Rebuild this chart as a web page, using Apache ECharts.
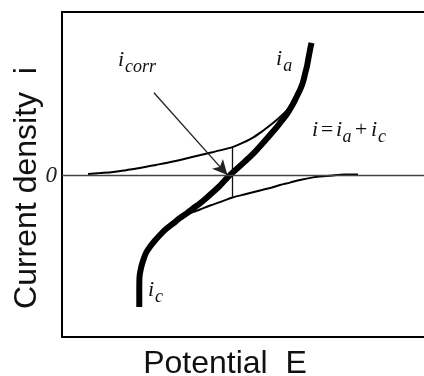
<!DOCTYPE html>
<html>
<head>
<meta charset="utf-8">
<script src="https://cdn.jsdelivr.net/npm/echarts@6/dist/echarts.min.js"></script>
<style>
  html, body { margin: 0; padding: 0; background: #fff; }
  #chart { width: 424px; height: 376px; }
</style>
</head>
<body>
<div id="chart"></div>
<script>
// Polarization curves in arbitrary units: potential E on x, current density i on y.

// Total measured current i = ia + ic
const totalE = [2.135, 2.135, 2.141, 2.182, 2.246, 2.320, 2.431, 2.569, 2.707, 2.873,
                3.075, 3.260, 3.445, 3.619, 3.812, 4.006, 4.180, 4.365, 4.550, 4.696,
                4.917, 5.110, 5.276, 5.552, 5.829, 6.022, 6.215, 6.381, 6.492, 6.575,
                6.657, 6.713, 6.768, 6.809, 6.851, 6.892];
const totalI = [-8.02, -6.98, -6.19, -5.64, -5.15, -4.72, -4.34, -3.96, -3.62, -3.26,
                -2.91, -2.58, -2.30, -2.00, -1.69, -1.33, -0.98, -0.60, -0.16, 0.16,
                0.59, 0.99, 1.33, 2.00, 2.70, 3.22, 3.77, 4.38, 4.87, 5.24,
                5.72, 6.21, 6.70, 7.19, 7.68, 8.11];

// Anodic partial current ia
const anodicE = [0.718, 1.050, 1.409, 1.768, 2.155, 2.597, 3.066, 3.536, 4.006, 4.365,
                 4.710, 5.000, 5.276, 5.552, 5.829, 6.022, 6.215, 6.409, 6.575, 6.657];
const anodicI = [0.10, 0.16, 0.23, 0.34, 0.47, 0.66, 0.87, 1.11, 1.36, 1.55,
                 1.75, 2.02, 2.33, 2.75, 3.22, 3.59, 4.01, 4.59, 5.17, 5.54];

// Cathodic partial current ic
const cathodicE = [8.177, 7.818, 7.486, 7.127, 6.934, 6.575, 6.298, 6.022, 5.801, 5.470,
                   5.083, 4.710, 4.365, 4.088, 3.812, 3.619, 3.445, 3.260, 3.075];
const cathodicI = [0.08, 0.07, 0.02, -0.05, -0.10, -0.26, -0.42, -0.57, -0.72, -0.90,
                   -1.12, -1.33, -1.61, -1.82, -2.06, -2.22, -2.40, -2.67, -2.98];

// Corrosion point: the vertical segment spans ia down to ic at E_corr
const corrE = 4.71;
const corrSpan = [1.75, -1.36];

// Pointer from the i_corr label to the zero crossing
const arrowFrom = [2.54, 5.07];
const arrowTo = [4.57, 0.04];

// The only tick label on the current axis
const currentTicks = [0];

const zip = (xs, ys) => xs.map((x, k) => [x, ys[k]]);

const chart = echarts.init(document.getElementById('chart'), null, { renderer: 'canvas' });

const frameLine = { show: true, onZero: false, lineStyle: { color: '#000', width: 2 } };
const hidden = { show: false };

chart.setOption({
  animation: false,
  backgroundColor: '#fff',
  grid: { left: 62, right: 0, top: 12, bottom: 39, containLabel: false, outerBoundsMode: 'none' },
  xAxis: [
    { type: 'value', min: 0, max: 10, position: 'bottom',
      axisLine: frameLine, axisTick: hidden, axisLabel: hidden, splitLine: hidden },
    { type: 'value', min: 0, max: 10, position: 'top',
      axisLine: frameLine, axisTick: hidden, axisLabel: hidden, splitLine: hidden }
  ],
  yAxis: {
    type: 'value', min: -9.85, max: 10,
    axisLine: frameLine, axisTick: hidden, splitLine: hidden,
    axisLabel: {
      show: true, customValues: currentTicks, margin: 5,
      fontFamily: 'Liberation Serif', fontStyle: 'italic', fontSize: 23, color: '#222'
    }
  },
  series: [
    {
      name: 'zero', type: 'line', data: [], z: 1,
      markLine: {
        silent: true, symbol: ['none', 'none'], label: { show: false },
        lineStyle: { color: '#444', width: 1.3, type: 'solid' },
        data: [{ yAxis: 0 }]
      }
    },
    {
      name: 'ia', type: 'line', data: zip(anodicE, anodicI), z: 2,
      showSymbol: false, smooth: 0.3,
      lineStyle: { color: '#000', width: 2 }
    },
    {
      name: 'ic', type: 'line', data: zip(cathodicE, cathodicI), z: 2,
      showSymbol: false, smooth: 0.3,
      lineStyle: { color: '#000', width: 2 }
    },
    {
      name: 'corr', type: 'line', data: corrSpan.map(v => [corrE, v]), z: 2,
      showSymbol: false,
      lineStyle: { color: '#111', width: 1.3 }
    },
    {
      name: 'i', type: 'line', data: zip(totalE, totalI), z: 3,
      showSymbol: false, smooth: 0.3,
      lineStyle: { color: '#000', width: 6, cap: 'butt' },
      markLine: {
        silent: true, symbol: ['none', 'arrow'], symbolSize: [11, 15],
        label: { show: false },
        lineStyle: { color: '#222', width: 1.3, type: 'solid' },
        data: [[{ coord: arrowFrom }, { coord: arrowTo }]]
      }
    }
  ]
});

// Italic math labels with subscripts, laid out piece by piece
const ctx = document.createElement('canvas').getContext('2d');
const MAIN = 22, SUB = 18, DROP = 6;
function mathLabel(anchor, parts) {
  const p = chart.convertToPixel({ gridIndex: 0 }, anchor);
  let x = p[0];
  const out = [];
  parts.forEach(part => {
    const size = part.sub ? SUB : MAIN;
    const font = 'italic ' + size + 'px "Liberation Serif"';
    ctx.font = font;
    x += part.pre || 0;
    const base = p[1] + (part.sub ? DROP : 0);
    out.push({
      type: 'text', z: 10, x: x, y: base - 0.33 * size,
      style: { text: part.t, font: font, fill: '#111', align: 'left', verticalAlign: 'middle' }
    });
    x += ctx.measureText(part.t).width + (part.post || 0);
  });
  return out;
}

const labels = []
  .concat(mathLabel([1.547, 6.64], [{ t: 'i' }, { t: 'corr', sub: true, pre: 1 }]))
  .concat(mathLabel([5.912, 6.70], [{ t: 'i' }, { t: 'a', sub: true, pre: 1 }]))
  .concat(mathLabel([6.906, 2.36], [
    { t: 'i' }, { t: '=', pre: 1.5, post: 1.5 }, { t: 'i' }, { t: 'a', sub: true, pre: 0.5 },
    { t: '+', pre: 2, post: 2.5 }, { t: 'i' }, { t: 'c', sub: true, pre: 1 }
  ]))
  .concat(mathLabel([2.376, -7.41], [{ t: 'i' }, { t: 'c', sub: true, pre: 1 }]));

chart.setOption({
  graphic: labels.concat([
    {
      type: 'text', z: 10, x: 225, y: 364,
      style: { text: 'Potential  E', font: '32px "Liberation Sans"', fill: '#111',
               align: 'center', verticalAlign: 'middle' }
    },
    {
      type: 'text', z: 10, x: 27, y: 188, rotation: Math.PI / 2,
      style: { text: 'Current density  i', font: '32px "Liberation Sans"', fill: '#111',
               align: 'center', verticalAlign: 'middle' }
    }
  ])
});
</script>
</body>
</html>
